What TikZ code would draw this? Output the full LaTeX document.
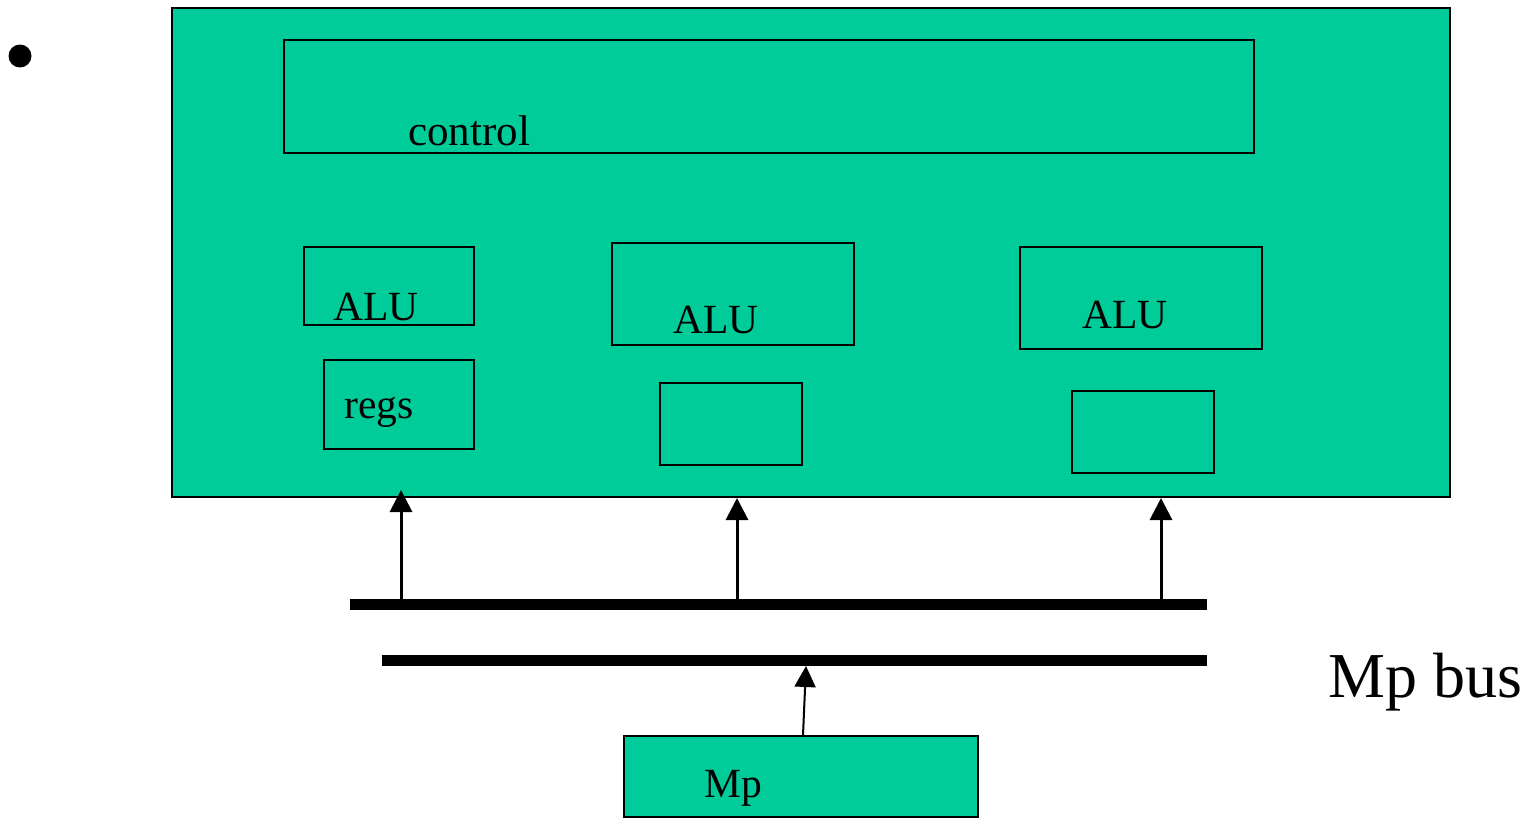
\documentclass[tikz,border=0pt]{standalone}
\usepackage{fontspec}
\setmainfont{Liberation Serif}
\usetikzlibrary{arrows.meta}
\definecolor{chipgreen}{RGB}{0,204,153}
\tikzset{
  box/.style={draw=black, line width=1.5pt, fill=chipgreen},
  lbl/.style={anchor=base west, inner sep=0pt, font=\fontsize{41.5}{41.5}\selectfont},
  bus/.style={line width=11pt},
  feed/.style={line width=3pt, -{Triangle[width=22pt,length=22pt]}},
  thinfeed/.style={line width=2pt, -{Triangle[width=21pt,length=21pt]}},
}
\begin{document}
\begin{tikzpicture}[x=1pt,y=-1pt]
\useasboundingbox (0,0) rectangle (1528,819);
% bullet
\node[circle, fill=black, inner sep=0pt, minimum size=23pt] (bullet) at (20,56) {};
% main chip
\draw[box] (172,8) rectangle (1450,497);
% control
\draw[box] (284,40) rectangle (1254,153);
\node[lbl, font=\fontsize{43}{43}\selectfont] (ctrl) at (408,145) {control};
% column 1
\draw[box] (304,247) rectangle (474,325);
\node[lbl] (alu1) at (333,320) {ALU};
\draw[box] (324,360) rectangle (474,449);
\node[lbl] (regs) at (344,418) {regs};
% column 2
\draw[box] (612,243) rectangle (854,345);
\node[lbl] (alu2) at (673,333) {ALU};
\draw[box] (660,383) rectangle (802,465);
% column 3
\draw[box] (1020,247) rectangle (1262,349);
\node[lbl] (alu3) at (1082,328) {ALU};
\draw[box] (1072,391) rectangle (1214,473);
% buses
\coordinate (busAw) at (350,604.5);
\coordinate (busAe) at (1207,604.5);
\coordinate (busBw) at (382,660.5);
\coordinate (busBe) at (1207,660.5);
\draw[bus] (busAw) -- (busAe);
\draw[bus] (busBw) -- (busBe);
% feeds from bus to chip
\coordinate (f1) at (401,600);
\coordinate (t1) at (401,490);
\coordinate (f2) at (737,600);
\coordinate (t2) at (737,498);
\coordinate (f3) at (1161,600);
\coordinate (t3) at (1161,498);
\draw[feed] (f1) -- (t1);
\draw[feed] (f2) -- (t2);
\draw[feed] (f3) -- (t3);
% Mp
\draw[box] (624,736) rectangle (978,817);
\node[lbl] (mp) at (704,797) {Mp};
\coordinate (mpout) at (803,735);
\coordinate (mpin) at (806,666);
\draw[thinfeed] (mpout) -- (mpin);
% label
\node[lbl, font=\fontsize{64}{64}\selectfont] (mpbus) at (1328,697) {Mp bus};
\end{tikzpicture}
\end{document}
